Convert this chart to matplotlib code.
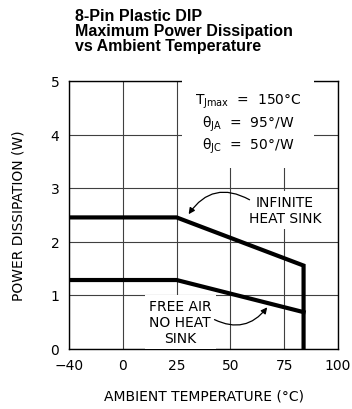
import numpy as np
import matplotlib
matplotlib.use("Agg")
import matplotlib.pyplot as plt

# axis ticks (x axis is not linear: ticks are evenly spaced)
x_ticks = [-40, 0, 25, 50, 75, 100]
y_ticks = [0, 1, 2, 3, 4, 5]

# derating curves (ambient temp in C, power in W)
inf_temp = [-40, 25, 84, 84]
inf_power = [2.45, 2.45, 1.55, 0.0]
air_temp = [-40, 25, 84]
air_power = [1.28, 1.28, 0.68]

title = "8-Pin Plastic DIP\nMaximum Power Dissipation\nvs Ambient Temperature"
params = ("$\\mathregular{T_{Jmax}}$  =  150\u00b0C\n"
          "$\\mathregular{\\theta_{JA}}$  =  95\u00b0/W\n"
          "$\\mathregular{\\theta_{JC}}$  =  50\u00b0/W")

idx = np.arange(len(x_ticks))


def fwd(x):
    return np.interp(x, x_ticks, idx)


def inv(x):
    return np.interp(x, idx, x_ticks)


plt.rcParams['font.family'] = ['DejaVu Sans']
plt.rcParams['mathtext.fontset'] = 'dejavusans'

fig = plt.figure(figsize=(3.52, 4.10), dpi=100)
ax = fig.add_axes([69 / 352, 1 - 349.5 / 410, 269 / 352, 267.5 / 410])
ax.set_xscale('function', functions=(fwd, inv))
ax.set_xlim(-40, 100)
ax.set_ylim(0, 5)
ax.set_xticks(x_ticks)
ax.set_xticklabels(['\u221240', '0', '25', '50', '75', '100'])
ax.set_yticks(y_ticks)
ax.tick_params(length=0, labelsize=10, pad=7)
ax.grid(True, color='0.25', lw=0.8)
ax.set_axisbelow(True)
for s in ax.spines.values():
    s.set_linewidth(1.0)

ax.plot(inf_temp, inf_power, color='black', lw=3, solid_joinstyle='miter', zorder=4)
ax.plot(air_temp, air_power, color='black', lw=3, solid_joinstyle='miter', zorder=4)

ax.text(0.665, 0.84, params, transform=ax.transAxes, ha='center', va='center',
        fontsize=10, linespacing=1.25, bbox=dict(fc='white', ec='none', boxstyle='square,pad=0.9'), zorder=3)
ax.text(0.803, 0.518, "INFINITE\nHEAT SINK", transform=ax.transAxes, ha='center', va='center',
        fontsize=10, linespacing=1.15, bbox=dict(fc='white', ec='none', boxstyle='square,pad=0.3'), zorder=3)
ax.text(0.413, 0.099, "FREE AIR\nNO HEAT\nSINK", transform=ax.transAxes, ha='center', va='center',
        fontsize=10, linespacing=1.2, bbox=dict(fc='white', ec='none', boxstyle='square,pad=0.3'), zorder=3)

arrow = dict(arrowstyle='-|>', color='black', lw=0.9, mutation_scale=9, shrinkA=0, shrinkB=0)
ax.annotate('', xy=(30.6, 2.51), xytext=(58.9, 2.78),
            arrowprops=dict(arrow, connectionstyle='arc3,rad=0.45'), zorder=5)
ax.annotate('', xy=(67.1, 0.77), xytext=(42.6, 0.54),
            arrowprops=dict(arrow, connectionstyle='arc3,rad=0.4'), zorder=5)

ax.set_xlabel('AMBIENT TEMPERATURE (\u00b0C)', fontsize=10, labelpad=12)
ax.set_ylabel('POWER DISSIPATION (W)', fontsize=10, labelpad=18)

fig.text(75 / 352, 1 - 9 / 410, title, ha='left', va='top', fontsize=11.5,
         fontweight='bold', family='Liberation Sans', linespacing=1.0)

fig.savefig('out.png', dpi=100)
